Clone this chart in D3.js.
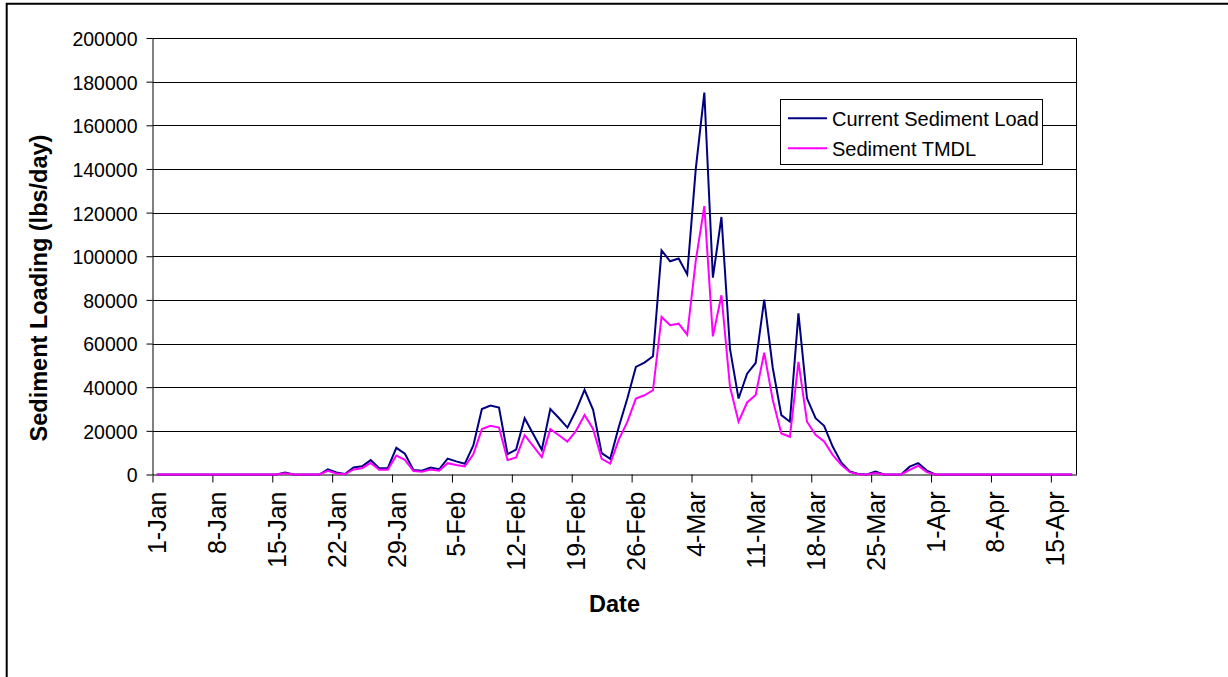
<!DOCTYPE html>
<html>
<head>
<meta charset="utf-8">
<script src="https://cdn.jsdelivr.net/npm/d3@7"></script>
<style>
  html, body { margin: 0; padding: 0; background: #fff; }
  svg { display: block; font-family: "Liberation Sans", Arial, sans-serif; }
</style>
</head>
<body>
<svg id="chart" width="1228" height="677"></svg>
<script>
// Daily series, one value per day starting 1-Jan-2004 (108 days)
const startDate = "2004-01-01";
const currentLoad = [
  0, 0, 0, 0, 0, 0, 0, 0, 0, 0,
  0, 0, 0, 0, 0, 900, 0, 0, 0, 0,
  2400, 900, 200, 3200, 3800, 6600, 2900, 2900, 12200, 9500,
  2100, 1700, 3200, 2400, 7300, 6000, 4900, 13300, 30000, 31600,
  30700, 9300, 11400, 25800, 18600, 11300, 30000, 25900, 21500, 29300,
  38800, 29600, 9800, 7200, 21800, 34800, 49300, 51300, 54200, 102700,
  97700, 99000, 91700, 140000, 175000, 90200, 118000, 57500, 34800, 46200,
  51100, 80100, 48800, 27200, 24200, 73800, 34900, 25800, 22300, 12800,
  5500, 1400, 200, 0, 1400, 0, 0, 0, 3600, 5200,
  1800, 0, 0, 0, 0, 0, 0, 0, 0, 0,
  0, 0, 0, 0, 0, 0, 0, 0
];
const sedimentTMDL = [
  0, 0, 0, 0, 0, 0, 0, 0, 0, 0,
  0, 0, 0, 0, 0, 600, 0, 0, 0, 0,
  1700, 500, 100, 2300, 2900, 5300, 2200, 2200, 8700, 6700,
  1600, 1300, 2300, 1700, 5200, 4400, 3700, 9300, 20800, 22300,
  21500, 6600, 7800, 18000, 13000, 8000, 20800, 18000, 15100, 20000,
  27300, 20900, 7200, 5000, 16000, 24100, 34800, 36300, 38600, 72200,
  68400, 69100, 64100, 98000, 123000, 63300, 82100, 40200, 24200, 33000,
  36400, 55800, 34100, 18800, 17300, 51600, 24200, 18200, 15100, 9000,
  4400, 1100, 100, 0, 700, 0, 0, 0, 2100, 4000,
  1100, 0, 0, 0, 0, 0, 0, 0, 0, 0,
  0, 0, 0, 0, 0, 0, 0, 0
];
const seriesNames = ["Current Sediment Load", "Sediment TMDL"];
const xTickLabels = ["1-Jan", "8-Jan", "15-Jan", "22-Jan", "29-Jan", "5-Feb", "12-Feb",
  "19-Feb", "26-Feb", "4-Mar", "11-Mar", "18-Mar", "25-Mar", "1-Apr", "8-Apr", "15-Apr"];
const yTickValues = [0, 20000, 40000, 60000, 80000, 100000, 120000, 140000, 160000, 180000, 200000];

const svg = d3.select("#chart");
const FONT = '"Liberation Sans", Arial, sans-serif';
const plot = { left: 152.5, right: 1076.5, top: 38, bottom: 474.5 };

const parseISO = d3.utcParse("%Y-%m-%d");
const parseTick = d3.utcParse("%d-%b-%Y");
const day0 = parseISO(startDate);
const dates = currentLoad.map((_, i) => d3.utcDay.offset(day0, i));
const dayEnd = d3.utcDay.offset(day0, currentLoad.length);

// Each day occupies one slot; values sit in the middle of their day
const x = d3.scaleUtc().domain([day0, dayEnd]).range([plot.left, plot.right]);
const y = d3.scaleLinear().domain([0, 200000]).range([plot.bottom, plot.top]);
const mid = d => d3.utcHour.offset(d, 12);
const halfDay = (x(d3.utcDay.offset(day0, 1)) - x(day0)) / 2;

// Outer chart frame
svg.append("path")
  .attr("d", "M6.7,700V3.7H1260")
  .attr("fill", "none").attr("stroke", "#000").attr("stroke-width", 2);

// Horizontal gridlines
svg.append("g").selectAll("line")
  .data(yTickValues.filter(v => v > 0))
  .join("line")
  .attr("x1", plot.left).attr("x2", plot.right)
  .attr("y1", d => Math.round(y(d)) + 0.5).attr("y2", d => Math.round(y(d)) + 0.5)
  .attr("stroke", "#000").attr("stroke-width", 1);

// Right edge of plot area
svg.append("line")
  .attr("x1", plot.right).attr("x2", plot.right)
  .attr("y1", plot.top).attr("y2", plot.bottom)
  .attr("stroke", "#000").attr("stroke-width", 1);

// Y axis
const yAxis = svg.append("g")
  .attr("transform", `translate(${plot.left},0)`)
  .call(d3.axisLeft(y).tickValues(yTickValues).tickSize(6).tickPadding(9)
    .tickSizeOuter(0).tickFormat(d3.format("d")));
yAxis.select(".domain").attr("stroke", "#000");
yAxis.selectAll(".tick line").attr("stroke", "#000");
yAxis.selectAll("text")
  .attr("font-family", FONT).attr("font-size", 19.5).attr("fill", "#000")
  .attr("dy", "0.38em");

// X axis: ticks at day boundaries, labels centred on the day
const tickDates = xTickLabels.map(s => parseTick(s + "-2004"));
const xAxis = svg.append("g")
  .attr("transform", `translate(0,${plot.bottom})`)
  .call(d3.axisBottom(x).tickValues(tickDates).tickSize(8).tickSizeOuter(0)
    .tickFormat((d, i) => xTickLabels[i]));
xAxis.select(".domain").attr("stroke", "#000");
xAxis.selectAll(".tick line").attr("stroke", "#000");
xAxis.selectAll("text")
  .attr("font-family", FONT).attr("font-size", 25).attr("fill", "#000")
  .attr("x", 0).attr("y", 0).attr("dy", "0.35em")
  .attr("text-anchor", "end")
  .attr("transform", `translate(${halfDay},17) rotate(-90)`);

// Series lines
const line = d3.line()
  .x((d, i) => x(mid(dates[i])))
  .y(d => y(d));

const series = [
  { name: seriesNames[0], values: currentLoad, color: "#000080" },
  { name: seriesNames[1], values: sedimentTMDL, color: "#FF00FF" }
];

svg.append("g").selectAll("path")
  .data(series)
  .join("path")
  .attr("d", s => line(s.values))
  .attr("fill", "none")
  .attr("stroke", s => s.color)
  .attr("stroke-width", 2)
  .attr("stroke-linejoin", "miter");

// Axis titles
svg.append("text")
  .attr("x", (plot.left + plot.right) / 2).attr("y", 611.5)
  .attr("text-anchor", "middle")
  .attr("font-family", FONT).attr("font-size", 23.5).attr("font-weight", "bold")
  .text("Date");

svg.append("text")
  .attr("transform", "translate(38.5,288) rotate(-90)")
  .attr("text-anchor", "middle").attr("dy", "0.35em")
  .attr("font-family", FONT).attr("font-size", 23.5).attr("font-weight", "bold")
  .text("Sediment Loading (lbs/day)");

// Legend
const legend = svg.append("g");
legend.append("rect")
  .attr("x", 780.5).attr("y", 99.5).attr("width", 262).attr("height", 65)
  .attr("fill", "#fff").attr("stroke", "#000").attr("stroke-width", 1);
const items = legend.selectAll("g.item")
  .data(series)
  .join("g").attr("class", "item")
  .attr("transform", (d, i) => `translate(0,${118.3 + i * 30})`);
items.append("line")
  .attr("x1", 788).attr("x2", 827).attr("y1", 0).attr("y2", 0)
  .attr("stroke", d => d.color).attr("stroke-width", 2);
items.append("text")
  .attr("x", 832).attr("y", 0).attr("dy", "0.36em")
  .attr("font-family", FONT).attr("font-size", 20).attr("fill", "#000")
  .text(d => d.name);
</script>
</body>
</html>
